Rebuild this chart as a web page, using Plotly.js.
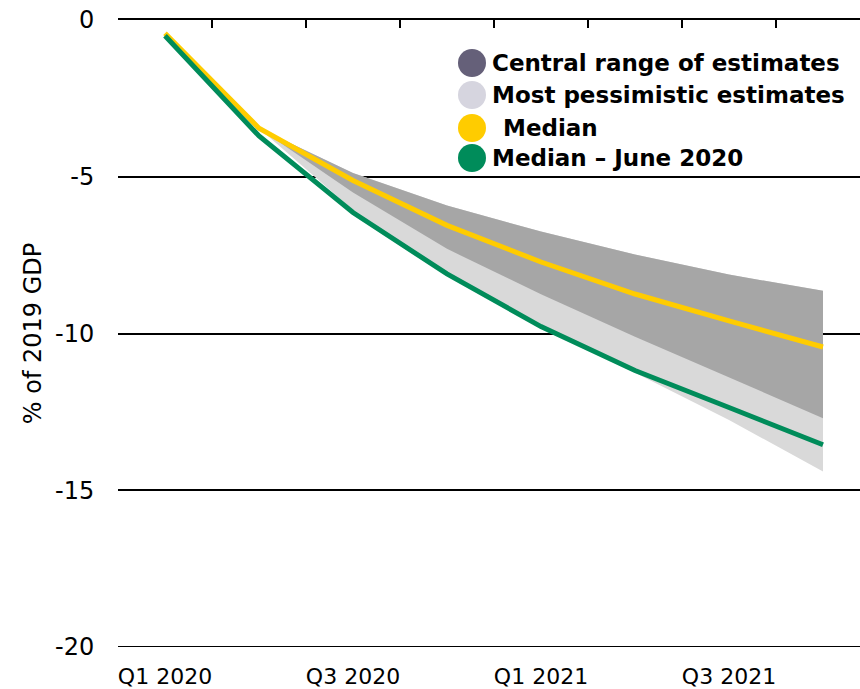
<!DOCTYPE html>
<html>
<head>
<meta charset="utf-8">
<script src="https://cdn.plot.ly/plotly-3.0.1.min.js"></script>
<style>
  html, body { margin: 0; padding: 0; background: #fff; }
  #chart { width: 860px; height: 689px; }
</style>
</head>
<body>
<div id="chart"></div>
<script>
// Quarterly path of output, % of 2019 GDP
const quarters = ['Q1 2020', 'Q2 2020', 'Q3 2020', 'Q4 2020', 'Q1 2021', 'Q2 2021', 'Q3 2021', 'Q4 2021'];
const tickQuarters = ['Q1 2020', 'Q3 2020', 'Q1 2021', 'Q3 2021'];
const yTicks = [0, -5, -10, -15, -20];
const yTickText = ['0', '-5', '-10', '-15', '-20'];

const median = [-0.42, -3.45, -5.12, -6.55, -7.72, -8.74, -9.60, -10.43];
const medianJune2020 = [-0.50, -3.70, -6.14, -8.10, -9.78, -11.18, -12.36, -13.55];

// Ranges start from Q2 2020
const rangeQuarters = quarters.slice(1);
const centralUpper = [-3.45, -4.88, -5.92, -6.75, -7.48, -8.12, -8.64];
const centralLower = [-3.45, -5.50, -7.30, -8.75, -10.10, -11.40, -12.70];
const pessimisticLower = [-3.45, -6.06, -8.15, -9.82, -11.25, -12.76, -14.40];

const legendItems = [
  { label: 'Central range of estimates', color: '#656079' },
  { label: 'Most pessimistic estimates', color: '#d6d5df' },
  { label: ' Median', color: '#ffcc00' },
  { label: 'Median – June 2020', color: '#008c5a' }
];

const M = { l: 118, r: 0, t: 20, b: 42 };
const W = 860, H = 689;
const plotW = W - M.l - M.r, plotH = H - M.t - M.b;
const px2x = p => (p - M.l) / plotW;
const px2y = p => (H - M.b - p) / plotH;

const FONT = 'DejaVu Sans, Arial, sans-serif';

const traces = [
  { x: rangeQuarters, y: pessimisticLower, mode: 'lines', line: { width: 0 }, hoverinfo: 'skip', showlegend: false },
  { x: rangeQuarters, y: centralUpper, mode: 'lines', line: { width: 0 }, fill: 'tonexty', fillcolor: '#d9d9d9', hoverinfo: 'skip', showlegend: false },
  { x: rangeQuarters, y: centralLower, mode: 'lines', line: { width: 0 }, hoverinfo: 'skip', showlegend: false },
  { x: rangeQuarters, y: centralUpper, mode: 'lines', line: { width: 0 }, fill: 'tonexty', fillcolor: '#a6a6a6', hoverinfo: 'skip', showlegend: false },
  { x: quarters, y: median, mode: 'lines', line: { color: '#ffcc00', width: 5 }, showlegend: false },
  { x: quarters, y: medianJune2020, mode: 'lines', line: { color: '#008c5a', width: 5 }, showlegend: false }
];

// Legend built from shapes and annotations
const rowY = [63, 95, 128, 158];
const shapes = legendItems.map((it, i) => ({
  type: 'circle', xref: 'paper', yref: 'paper',
  xsizemode: 'pixel', ysizemode: 'pixel',
  xanchor: px2x(472), yanchor: px2y(rowY[i]),
  x0: -14, x1: 14, y0: -14, y1: 14,
  fillcolor: it.color, line: { width: 0 }
}));
// Bottom rule at the lowest tick
shapes.push({
  type: 'line', xref: 'paper', yref: 'y', x0: 0, x1: 1,
  y0: yTicks[yTicks.length - 1], y1: yTicks[yTicks.length - 1],
  line: { color: '#000', width: 2 }, layer: 'below'
});

const annotations = legendItems.map((it, i) => ({
  xref: 'paper', yref: 'paper', x: px2x(i === 2 ? 493 : 490), y: px2y(rowY[i]),
  xanchor: 'left', yanchor: 'middle', showarrow: false,
  text: '<b>' + it.label + '</b>',
  font: { family: FONT, size: 23, color: '#000' }
}));

const xRange = [-0.5, -0.5 + plotW / 94];

const layout = {
  width: W, height: H,
  margin: M,
  paper_bgcolor: '#fff', plot_bgcolor: '#fff',
  showlegend: false,
  font: { family: FONT, size: 24, color: '#000' },
  xaxis: {
    type: 'category', categoryorder: 'array', categoryarray: quarters,
    range: xRange, fixedrange: true,
    tickmode: 'array', tickvals: tickQuarters, ticktext: tickQuarters,
    ticks: 'outside', ticklen: 10, tickcolor: 'rgba(0,0,0,0)',
    showgrid: false, zeroline: false, showline: false,
    tickfont: { family: FONT, size: 22, color: '#000' }
  },
  xaxis2: {
    type: 'category', categoryorder: 'array', categoryarray: quarters,
    overlaying: 'x', anchor: 'y', side: 'top', matches: 'x',
    range: xRange, fixedrange: true,
    tickmode: 'linear', dtick: 1, tickson: 'boundaries',
    ticks: 'inside', ticklen: 8, tickwidth: 2, tickcolor: '#000',
    showticklabels: false, showgrid: false, zeroline: false,
    showline: true, linewidth: 2, linecolor: '#000'
  },
  yaxis: {
    range: [-20, 0], fixedrange: true,
    tickmode: 'array', tickvals: yTicks, ticktext: yTickText,
    showgrid: true, gridcolor: '#000', gridwidth: 2,
    zeroline: false, showline: false,
    ticks: 'outside', ticklen: 18, tickcolor: 'rgba(0,0,0,0)',
    tickfont: { family: FONT, size: 24, color: '#000' },
    title: { text: '% of 2019 GDP', font: { family: FONT, size: 24, color: '#000' }, standoff: 6 }
  },
  shapes: shapes,
  annotations: annotations
};

// An invisible trace keeps the top axis alive
traces.push({ x: quarters, y: median, xaxis: 'x2', mode: 'lines', line: { width: 0 }, hoverinfo: 'skip', showlegend: false });

Plotly.newPlot('chart', traces, layout, { staticPlot: true, displayModeBar: false });
</script>
</body>
</html>
